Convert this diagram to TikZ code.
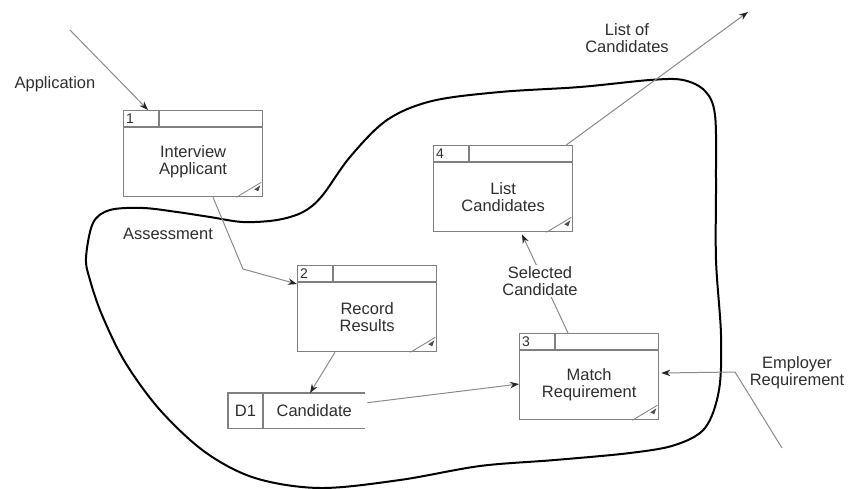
\documentclass[tikz,border=0pt]{standalone}
\usepackage{fontspec}
\setmainfont{Liberation Sans}
\usetikzlibrary{arrows.meta,calc}
\definecolor{boxgray}{HTML}{808080}
\definecolor{flowgray}{HTML}{8A8A8A}
\definecolor{inkgray}{HTML}{2E2E2E}
\tikzset{
  procframe/.style={draw=boxgray, line width=1.3pt, minimum width=139pt, minimum height=86pt, inner sep=0pt, anchor=north west},
  boxline/.style={draw=boxgray, line width=1.3pt},
  flow/.style={draw=flowgray, line width=1pt, -{Stealth[length=9pt,width=6.5pt,color=black!85]}},
  lbl/.style={text=inkgray, font=\fontsize{16.5}{17}\selectfont, align=center, inner sep=1pt},
  numlbl/.style={text=inkgray, font=\fontsize{14}{14}\selectfont, anchor=west, inner sep=0pt},
  boundary/.style={draw=black, line width=2pt},
}
% process box: name, x, y (top-left), number, caption
\newcommand\procbox[5]{%
  \node[procframe] (#1) at (#2,#3) {};
  \draw[boxline] ($(#1.north west)+(0,17)$) -- ($(#1.north east)+(0,17)$);
  \draw[boxline] ($(#1.north west)+(36,0)$) -- ($(#1.north west)+(36,17)$);
  \node[numlbl] (#1num) at ($(#1.north west)+(3,8.5)$) {#4};
  \node[lbl] (#1txt) at ($(#1.center)+(0,8.5)$) {#5};
  \draw[boxline, line width=0.8pt] ($(#1.south east)+(-27,0)$) -- ($(#1.south east)+(-2,-15)$);
  \fill[boxgray!60!black] ($(#1.south east)+(-3,-12)$) -- ($(#1.south east)+(-9,-8)$) -- ($(#1.south east)+(-5,-6)$) -- cycle;
}
\begin{document}
\begin{tikzpicture}[x=1pt, y=-1pt]
\useasboundingbox (0,0) rectangle (848,489);

% system boundary
\draw[boundary] plot[smooth cycle, tension=0.55] coordinates {
  (86,258) (93,223) (110,210) (143,208) (177,212) (210,217) (243,222)
  (277,220) (303,212) (322,196) (350,157) (387,120) (432,101) (500,92)
  (580,87) (650,80) (683,80) (705,91) (715,115) (716,180) (716,260)
  (721,335) (719,390) (705,428) (675,445) (630,453) (555,460) (480,466)
  (400,480) (320,488) (255,478) (205,452) (160,410) (125,362) (102,315) (90,280)};

% processes
\procbox{p1}{123}{110}{1}{Interview\\Applicant}
\procbox{p2}{297}{265}{2}{Record\\Results}
\procbox{p4}{433}{145}{4}{List\\Candidates}
\procbox{p3}{519}{333}{3}{Match\\Requirement}

% data store
\node[inner sep=0pt, minimum width=137pt, minimum height=35pt, anchor=north west] (d1) at (228,393) {};
\draw[boxline] (d1.north east) -- (d1.north west) -- (d1.south west) -- (d1.south east);
\draw[boxline] ($(d1.north west)+(35,0)$) -- ($(d1.south west)+(35,0)$);
\node[lbl] (d1id) at ($(d1.west)+(17.5,0)$) {D1};
\node[lbl] (d1txt) at ($(d1.center)+(17.5,0)$) {Candidate};

% flows
\coordinate (appsrc) at (70,30);
\draw[flow] (appsrc) -- ($(p1.north west)+(25,0)$);
\coordinate (assbend) at (243,269);
\draw[flow] ($(p1.south west)+(90,0)$) -- (assbend) -- ($(p2.north west)+(0,19)$);
\draw[flow] ($(p2.south west)+(38,0)$) -- ($(d1.north west)+(82,0)$);
\draw[flow] ($(d1.east)+(2,-8)$) -- ($(p3.north west)+(0,51)$);
\draw[flow] ($(p3.north west)+(49,0)$) -- ($(p4.south west)+(89,2)$);
\coordinate (listdst) at (748,12);
\draw[flow] ($(p4.north east)+(-7,0)$) -- (listdst);
\coordinate (empsrc) at (782,448);
\coordinate (empbend) at (735,372);
\draw[flow] (empsrc) -- (empbend) -- ($(p3.north east)+(2,40)$);

% flow labels
\node[lbl] (application) at (55,84) {Application};
\node[lbl] (assessment) at (168,234) {Assessment};
\node[lbl] (listout) at (627,38) {List of\\Candidates};
\node[lbl] (employer) at (797,373) {Employer\\Requirement};
\node[lbl, fill=white] (selected) at (540,281) {Selected\\Candidate};
\end{tikzpicture}
\end{document}
